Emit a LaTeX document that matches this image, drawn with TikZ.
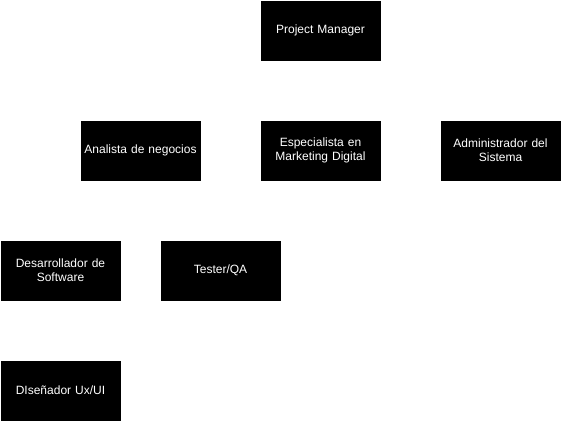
\documentclass[tikz,border=0pt]{standalone}
\usepackage{fontspec}
\setmainfont{Liberation Sans}
\usepackage{tikz}
\tikzset{
    role/.style={
        fill=black, draw=black, text=white,
        minimum width=119pt, minimum height=59pt,
        inner sep=0pt, outer sep=0pt,
        align=center, text width=115pt,
        font=\fontsize{12}{14}\selectfont
    }
}

\begin{document}
\begin{tikzpicture}[x=1pt,y=-1pt]
		\useasboundingbox (0,0) rectangle (561,421);

		% top
		\node[role] (pm) at (320.5,30.5) {Project Manager};

		% second row
		\node[role] (analista) at (140.5,150.5) {Analista de negocios};
		\node[role] (marketing) at (320.5,150.5) {Especialista en\\Marketing Digital};
		\node[role] (admin) at (500.5,150.5) {Administrador del\\Sistema};

		% third row
		\node[role] (dev) at (60.5,270.5) {Desarrollador de\\Software};
		\node[role] (qa) at (220.5,270.5) {Tester/QA};

		% bottom
		\node[role] (ux) at (60.5,390.5) {DIseñador Ux/UI};

	\end{tikzpicture}
\end{document}
